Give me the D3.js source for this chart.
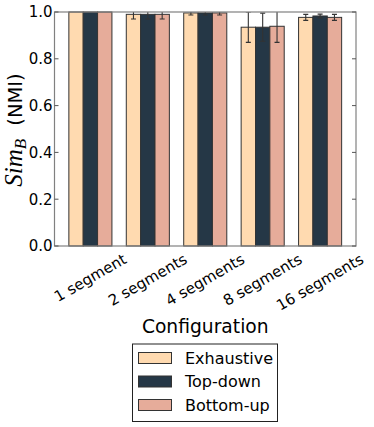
<!DOCTYPE html>
<html lang="en">
<head>
    <meta charset="UTF-8">
    <style>
        body { margin: 0; background: #fff; }
        text { font-family: "DejaVu Sans", sans-serif; fill: #000; }
    </style>
</head>
<body>
    <svg width="374" height="427"></svg>
    <script src="https://cdnjs.cloudflare.com/ajax/libs/d3/7.8.5/d3.min.js"></script>
    <script>

        var categories = ["1 segment", "2 segments", "4 segments", "8 segments", "16 segments"];
        var seriesNames = ["Exhaustive", "Top-down", "Bottom-up"];
        var exhaustive = [1.0, 0.990, 0.996, 0.935, 0.977];
        var topDown = [1.0, 0.990, 0.996, 0.935, 0.983];
        var bottomUp = [1.0, 0.990, 0.996, 0.939, 0.977];
        var exhaustiveErr = [0, 0.020, 0.009, 0.065, 0.013];
        var topDownErr = [0, 0.020, 0.009, 0.060, 0.008];
        var bottomUpErr = [0, 0.020, 0.009, 0.069, 0.013];
        var yTicks = [0.0, 0.2, 0.4, 0.6, 0.8, 1.0];

        var colors = ["#ffdab0", "#253746", "#e6ac9a"];
        var values = [exhaustive, topDown, bottomUp];
        var errs = [exhaustiveErr, topDownErr, bottomUpErr];

        // note: "top" is a read-only window global, so use plot* names
        var svg = d3.select("svg"),
            plotL = 54.5, plotR = 356, plotT = 12, plotB = 246;

        var x = d3.scaleLinear().domain([0, 5.25]).range([plotL, plotR]),
            y = d3.scaleLinear().domain([0, 1]).range([plotB, plotT]);

        var barW = 0.25;

        svg.append("clipPath").attr("id", "plotclip")
            .append("rect")
            .attr("x", plotL).attr("y", plotT)
            .attr("width", plotR - plotL).attr("height", plotB - plotT);

        // bars
        var series = svg.selectAll(".series")
            .data(values)
            .enter().append("g")
            .attr("class", "series");

        series.selectAll("rect")
            .data(function(d, k) { return d.map(function(v, i) { return {v: v, i: i, k: k}; }); })
            .enter().append("rect")
            .attr("x", function(d) { return x(d.i + 0.25 + d.k * barW); })
            .attr("y", function(d) { return y(d.v); })
            .attr("width", function(d) { return x(barW) - x(0); })
            .attr("height", function(d) { return y(0) - y(d.v); })
            .attr("fill", function(d) { return colors[d.k]; })
            .attr("stroke", "#333")
            .attr("stroke-width", 1);

        // error bars
        var eb = svg.append("g").attr("clip-path", "url(#plotclip)")
            .attr("stroke", "#333").attr("stroke-width", 1.1);
        values.forEach(function(vals, k) {
            vals.forEach(function(v, i) {
                var e = errs[k][i];
                if (!e) return;
                var cx = x(i + 0.25 + k * barW + barW / 2);
                eb.append("line").attr("x1", cx).attr("x2", cx)
                    .attr("y1", y(v - e)).attr("y2", y(v + e));
                [v - e, v + e].forEach(function(yy) {
                    eb.append("line").attr("x1", cx - 2.5).attr("x2", cx + 2.5)
                        .attr("y1", y(yy)).attr("y2", y(yy));
                });
            });
        });

        // frame
        svg.append("rect")
            .attr("x", plotL).attr("y", plotT)
            .attr("width", plotR - plotL).attr("height", plotB - plotT)
            .attr("fill", "none").attr("stroke", "#808080").attr("stroke-width", 1.2);

        // y ticks (inside, both sides)
        var yt = svg.append("g");
        yTicks.forEach(function(t) {
            yt.append("line").attr("x1", plotL).attr("x2", plotL + 4)
                .attr("y1", y(t)).attr("y2", y(t)).attr("stroke", "#555");
            yt.append("line").attr("x1", plotR - 4).attr("x2", plotR)
                .attr("y1", y(t)).attr("y2", y(t)).attr("stroke", "#555");
            yt.append("text")
                .attr("x", plotL - 2)
                .attr("y", y(t))
                .attr("dy", "0.36em")
                .attr("text-anchor", "end")
                .style("font-size", "15px")
                .text(d3.format(".1f")(t));
        });

        // x tick labels, rotated 30deg, centred on group, top of box at 250
        var labelTop = 250.5;
        categories.forEach(function(c, i) {
            var cx = x(i + 0.25 + 1.5 * barW);
            var t = svg.append("text")
                .style("font-size", "15px")
                .attr("text-anchor", "middle")
                .attr("dy", "0.32em")
                .text(c);
            var w = t.node().getComputedTextLength();
            var h = 17.5;
            var bh = w * 0.5 + h * Math.cos(Math.PI / 6);
            t.attr("transform", "translate(" + cx + "," + (labelTop + bh / 2) + ") rotate(-30)");
        });

        // axis titles
        svg.append("text")
            .attr("x", (plotL + plotR) / 2)
            .attr("y", 333)
            .attr("text-anchor", "middle")
            .style("font-size", "18.7px")
            .text("Configuration");

        var yl = svg.append("text")
            .attr("transform", "translate(21.5," + ((plotT + plotB) / 2 + 1) + ") rotate(-90)")
            .attr("text-anchor", "middle")
            .style("font-size", "19.5px");
        yl.append("tspan")
            .style("font-family", "'Liberation Serif', serif")
            .style("font-style", "italic")
            .style("font-size", "25px")
            .text("Sim");
        yl.append("tspan")
            .style("font-family", "'Liberation Serif', serif")
            .style("font-style", "italic")
            .style("font-size", "17px")
            .attr("dy", "4")
            .text("B");
        yl.append("tspan")
            .attr("dy", "-4")
            .attr("dx", "7")
            .text("\u00a0(NMI)");

        // legend
        var lg = svg.append("g");
        lg.append("rect")
            .attr("x", 132.5).attr("y", 344)
            .attr("width", 145).attr("height", 77.5)
            .attr("fill", "#fff").attr("stroke", "#222").attr("stroke-width", 1);
        seriesNames.forEach(function(n, k) {
            var cy = 358 + k * 23.5;
            lg.append("rect")
                .attr("x", 138.5).attr("y", cy - 5.5)
                .attr("width", 33).attr("height", 11)
                .attr("fill", colors[k]).attr("stroke", "#333");
            lg.append("text")
                .attr("x", 185).attr("y", cy)
                .attr("dy", "0.36em")
                .style("font-size", "16px")
                .text(n);
        });
    </script>
</body>
</html>
